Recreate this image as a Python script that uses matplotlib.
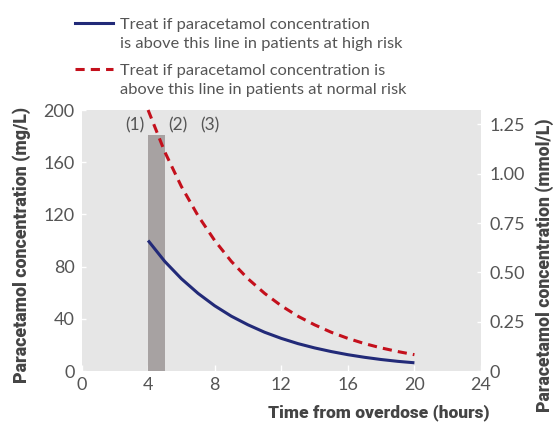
import matplotlib
matplotlib.use("Agg")
import matplotlib.pyplot as plt
from matplotlib.lines import Line2D

hours = [4, 5, 6, 7, 8, 9, 10, 11, 12, 13, 14, 15, 16, 17, 18, 19, 20]
high_risk = [100, 84, 70.7, 59.5, 50, 42, 35.4, 29.7, 25, 21, 17.7, 14.9, 12.5, 10.5, 8.8, 7.4, 6.3]
normal_risk = [200, 168, 141.4, 119, 100, 84, 70.7, 59.5, 50, 42, 35.4, 29.7, 25, 21, 17.7, 14.9, 12.5]
bar_start, bar_end, bar_height = 4, 5, 181
marker_labels = ["(1)", "(2)", "(3)"]
marker_x = [3.2, 5.8, 7.7]
marker_y = 188
x_ticks = [0, 4, 8, 12, 16, 20, 24]
y_ticks = [0, 40, 80, 120, 160, 200]
mmol_ticks = [0, 0.25, 0.50, 0.75, 1.00, 1.25]
mmol_labels = ["0", "0.25", "0.50", "0.75", "1.00", "1.25"]
MG_PER_MMOL = 151.16
legend_texts = ["Treat if paracetamol concentration\nis above this line in patients at high risk",
                "Treat if paracetamol concentration is\nabove this line in patients at normal risk"]

FONT = "Lato"
BOLD_FONT = "Roboto"
TXT = "#555555"
BLUE = "#222a78"
RED = "#c4101c"

W, H = 558, 423
fig = plt.figure(figsize=(W / 100, H / 100), dpi=100)
renderer = fig.canvas.get_renderer()


def fit(text_obj, target_px, horizontal=True):
    bb = text_obj.get_window_extent(renderer)
    size = bb.width if horizontal else bb.height
    text_obj.set_fontsize(text_obj.get_fontsize() * target_px / size)


ax = fig.add_axes([81.5 / W, 1 - 371 / H, (481 - 81.5) / W, (371 - 110) / H])
ax.set_facecolor("#e6e6e6")
for s in ax.spines.values():
    s.set_visible(False)

ax.bar([bar_start], [bar_height], width=bar_end - bar_start, align="edge", color="#a7a2a2", zorder=2)
ax.plot(hours, high_risk, color=BLUE, lw=2.2, zorder=3, solid_capstyle="butt")
ax.plot(hours, normal_risk, color=RED, lw=2.2, ls=(0, (3.0, 2.0)), zorder=3, clip_on=False)

for lab, xx in zip(marker_labels, marker_x):
    t = ax.text(xx, marker_y, lab, ha="center", va="center", fontsize=12, color=TXT, family=FONT)
    fit(t, 19)

ax.set_xlim(0, 24)
ax.set_ylim(0, 200)
ax.set_xticks(x_ticks)
ax.set_yticks(y_ticks)

probe = fig.text(0, 0, "200", fontsize=13, family=FONT)
fit(probe, 31)
tsize = probe.get_fontsize()
probe.remove()

ax.tick_params(axis="x", direction="in", length=4, width=1, color="white", labelsize=tsize,
               labelcolor=TXT, pad=4)
ax.tick_params(axis="y", direction="inout", length=6, width=1, color="white", labelsize=tsize,
               labelcolor=TXT, pad=2)
for t in ax.get_xticklabels() + ax.get_yticklabels():
    t.set_family(FONT)

ax2 = ax.twinx()
for s in ax2.spines.values():
    s.set_visible(False)
ax2.set_ylim(0, 200 / MG_PER_MMOL)
ax2.set_yticks(mmol_ticks)
ax2.set_yticklabels(mmol_labels)
ax2.tick_params(axis="y", direction="inout", length=6, width=1, color="white", labelsize=tsize,
                labelcolor=TXT, pad=3)
for t in ax2.get_yticklabels():
    t.set_family(FONT)

lab_kw = dict(fontsize=12.5, fontweight=900, color="#444444", family=BOLD_FONT)
yl = fig.text(22 / W, 1 - 245 / H, "Paracetamol concentration (mg/L)", rotation=90, ha="center", va="center", **lab_kw)
fit(yl, 276, horizontal=False)
yr = fig.text(545 / W, 1 - 265 / H, "Paracetamol concentration (mmol/L)", rotation=90, ha="center", va="center", **lab_kw)
fit(yr, 295, horizontal=False)
xl = fig.text(379 / W, 1 - 413 / H, "Time from overdose (hours)", ha="center", va="center", **lab_kw)
fit(xl, 222)

# legend
fig.add_artist(Line2D([75 / W, 113 / W], [1 - 23 / H, 1 - 23 / H], color=BLUE, lw=2.2))
fig.add_artist(Line2D([75 / W, 113 / W], [1 - 69 / H, 1 - 69 / H], color=RED, lw=2.2, ls=(0, (3.0, 2.0))))
l1 = fig.text(120 / W, 1 - 29 / H, legend_texts[0].split("\n")[0], ha="left", va="baseline",
              fontsize=11.8, color=TXT, family=FONT)
fit(l1, 249)
lsize = l1.get_fontsize()
l1.remove()
baselines = [[29, 48], [75, 94]]
for txt, bls in zip(legend_texts, baselines):
    for line, bl in zip(txt.split("\n"), bls):
        fig.text(120 / W, 1 - bl / H, line, ha="left", va="baseline", fontsize=lsize, color=TXT,
                 family=FONT)

fig.savefig("out.png", dpi=100)
